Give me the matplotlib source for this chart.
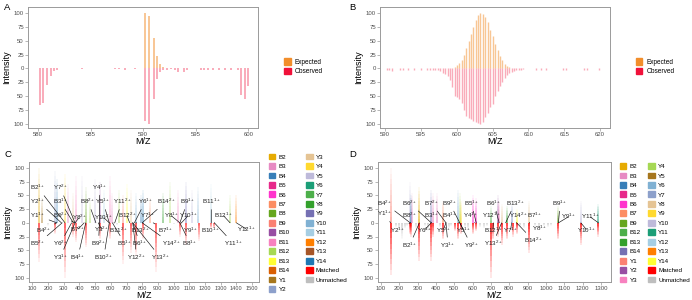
import numpy as np
import matplotlib
matplotlib.use('Agg')
import matplotlib.pyplot as plt
from matplotlib.collections import LineCollection
from matplotlib.colors import to_rgba
from matplotlib.patches import Patch

plt.rcParams['font.family'] = ['Liberation Sans', 'DejaVu Sans']
plt.rcParams['mathtext.default'] = 'regular'

# ---- Panel A: isotope envelope, expected vs observed ----
a_exp_mz = [590.2, 590.5, 591.0, 591.3, 591.6, 591.9, 592.3]
a_exp_int = [100, 95, 55, 23, 8, 3, 1]
a_obs_mz = [580.2, 580.5, 580.9, 581.2, 581.5, 581.8, 584.2, 587.3, 587.7, 588.3,
            589.2, 590.2, 590.5, 591.0, 591.3, 591.6, 591.9, 592.3, 592.6, 593.0,
            593.3, 593.9, 594.2, 595.5, 595.8, 596.2, 596.6, 597.2, 597.8, 598.3,
            599.0, 599.3, 599.7, 600.0]
a_obs_int = [67, 62, 30, 13, 4, 2, 1, 1, 1, 2,
             1, 95, 100, 55, 19, 6, 3, 2, 1, 2,
             6, 6, 2, 2, 2, 2, 2, 2, 3, 2,
             2, 48, 55, 32]

# ---- Panel B ----
b_exp_mz = [599.7, 600.0, 600.3, 600.7, 601.0, 601.3, 601.7, 602.0, 602.3, 602.7,
            603.0, 603.3, 603.7, 604.0, 604.3, 604.7, 605.0, 605.3, 605.7, 606.0,
            606.3, 606.7, 607.0, 607.3]
b_exp_int = [3, 6, 10, 15, 25, 37, 50, 63, 76, 88,
             96, 100, 98, 93, 84, 70, 58, 45, 33, 22,
             15, 9, 5, 2]
b_obs_mz = [590.2, 590.5, 591.0, 592.0, 592.5, 593.2, 594.0, 595.0, 595.8, 596.3,
            596.7, 597.0, 597.3, 597.7, 598.0, 598.3, 598.7, 599.0, 599.3, 599.7,
            600.0, 600.3, 600.7, 601.0, 601.3, 601.7, 602.0, 602.3, 602.7, 603.0,
            603.3, 603.7, 604.0, 604.3, 604.7, 605.0, 605.3, 605.7, 606.0, 606.3,
            606.7, 607.0, 607.3, 607.7, 608.0, 608.3, 608.7, 609.0, 609.3, 611.0,
            611.7, 612.5, 614.8, 615.3, 617.8, 618.2, 619.8]
b_obs_int = [2, 3, 4, 2, 2, 2, 2, 2, 2, 2,
             2, 2, 3, 5, 8, 10, 13, 20, 33, 50,
             52, 55, 62, 75, 86, 90, 92, 96, 97, 98,
             100, 97, 88, 80, 70, 65, 50, 40, 32, 25,
             18, 12, 8, 6, 4, 3, 2, 2, 1, 2,
             2, 2, 2, 2, 2, 2, 2]

# ---- Panel C: annotated fragment spectrum ----
c_ions = ['B2', 'B3', 'B4', 'B5', 'B6', 'B7', 'B8', 'B9', 'B10', 'B11', 'B12', 'B13',
          'B14', 'Y1', 'Y2', 'Y3', 'Y4', 'Y5', 'Y6', 'Y7', 'Y8', 'Y9', 'Y10', 'Y11',
          'Y12', 'Y13', 'Y14']
c_colors = ['#E6AB02', '#E78AC3', '#377EB8', '#E7298A', '#FF33CC', '#FC8D62', '#66A61E',
            '#FB8072', '#984EA3', '#F781BF', '#A6D854', '#FFFF33', '#D95F02', '#A6761D',
            '#8DA0CB', '#E5C494', '#FFD92F', '#BEBADA', '#1B9E77', '#4DAF4A', '#33A02C',
            '#7570B3', '#80B1D3', '#A6CEE3', '#FF7F00', '#A65628', '#1F78B4']
c_exp_mz = [142, 160, 246, 258, 306, 330, 358, 380, 416, 443, 470, 500, 528, 555, 592,
            610, 650, 677, 705, 730, 760, 790, 807, 850, 930, 980, 1028, 1081, 1120,
            1155, 1240, 1360, 1400]
c_exp_int = [100, 45, 95, 80, 90, 70, 55, 85, 85, 65, 40, 80, 75, 60, 85,
             55, 60, 50, 70, 60, 55, 50, 60, 45, 55, 75, 60, 75, 60,
             65, 70, 50, 50]
c_exp_ion = ['B2', 'Y1', 'Y2', 'B4', 'Y4', 'B3', 'Y3', 'B11', 'Y5', 'B8', 'B12', 'Y5',
             'B10', 'Y11', 'B11', 'B3', 'B12', 'B9', 'B13', 'Y3', 'Y10', 'B4', 'Y14',
             'B7', 'Y8', 'B12', 'B11', 'Y9', 'Y5', 'Y10', 'Y11', 'B12', 'Y12']
c_match_mz = [142, 246, 306, 359, 380, 443, 528, 592, 677, 729, 760, 807, 888, 1043,
              1081, 1159, 1240, 1260]
c_match_int = [72, 20, 100, 25, 35, 45, 30, 30, 75, 55, 60, 30, 90, 25, 40, 33, 10, 10]
c_unm_mz = [200, 640, 1000]
c_unm_int = [5, 4, 3]
# label text, label m/z, label height, target m/z
c_labels = [('B2$^{1+}$', 136, 64, 308), ('Y7$^{2+}$', 278, 64, 372),
            ('Y4$^{1+}$', 529, 65, 527), ('Y2$^{1+}$', 136, 39, 285),
            ('B3$^{1+}$', 278, 39, 361), ('B8$^{2+}$', 455, 39, 505),
            ('Y5$^{1+}$', 550, 39, 590), ('Y11$^{2+}$', 671, 39, 625),
            ('Y6$^{1+}$', 820, 39, 750), ('B14$^{2+}$', 952, 39, 800),
            ('B9$^{1+}$', 1089, 39, 1040), ('B11$^{1+}$', 1240, 39, 1240),
            ('Y1$^{1+}$', 136, 13, 255), ('B6$^{2+}$', 278, 13, 372),
            ('Y8$^{2+}$', 399, 10, 372), ('Y10$^{2+}$', 553, 10, 590),
            ('B12$^{2+}$', 703, 13, 720), ('Y7$^{1+}$', 833, 13, 760),
            ('Y8$^{1+}$', 985, 13, 1040), ('Y10$^{1+}$', 1093, 13, 1050),
            ('B12$^{1+}$', 1318, 13, 1360), ('B4$^{2+}$', 172, -14, 255),
            ('B7$^{2+}$', 390, -12, 430), ('Y3$^{2+}$', 541, -12, 520),
            ('B11$^{2+}$', 650, -14, 620), ('B13$^{2+}$', 788, -14, 760),
            ('B7$^{1+}$', 952, -14, 870), ('Y9$^{1+}$', 1110, -14, 1050),
            ('B10$^{1+}$', 1237, -14, 1260), ('Y12$^{1+}$', 1467, -12, 1400),
            ('B5$^{2+}$', 136, -38, 290), ('Y6$^{2+}$', 278, -38, 350),
            ('B9$^{2+}$', 522, -38, 527), ('B5$^{1+}$', 690, -38, 610),
            ('B6$^{1+}$', 786, -38, 740), ('Y14$^{2+}$', 985, -38, 800),
            ('B8$^{1+}$', 1105, -38, 1040), ('Y11$^{1+}$', 1382, -38, 1260),
            ('Y3$^{1+}$', 278, -63, 372), ('B4$^{1+}$', 390, -63, 440),
            ('B10$^{2+}$', 555, -63, 590), ('Y12$^{2+}$', 765, -63, 740),
            ('Y13$^{2+}$', 915, -63, 740)]

# ---- Panel D ----
d_ions = ['B2', 'B3', 'B4', 'B5', 'B6', 'B7', 'B9', 'B12', 'B13', 'B14', 'Y1', 'Y2', 'Y3',
          'Y4', 'Y5', 'Y6', 'Y7', 'Y8', 'Y9', 'Y10', 'Y11', 'Y12', 'Y13', 'Y14']
d_colors = ['#E6AB02', '#E78AC3', '#377EB8', '#E7298A', '#FF33CC', '#FC8D62', '#66A61E',
            '#4DAF4A', '#33A02C', '#7570B3', '#FB8072', '#984EA3', '#F781BF', '#A6D854',
            '#A6761D', '#80B1D3', '#8DA0CB', '#E5C494', '#FFD92F', '#BEBADA', '#1B9E77',
            '#A6CEE3', '#FF7F00', '#FFFF33']
d_exp_mz = [153, 258, 262, 268, 310, 375, 385, 405, 440, 522, 530, 536, 600, 620, 700,
            740, 745, 758, 786, 813, 840, 909, 1068, 1190, 1286]
d_exp_int = [100, 75, 50, 55, 65, 60, 55, 55, 40, 60, 55, 40, 50, 45, 30,
             50, 40, 35, 30, 35, 25, 40, 30, 40, 35]
d_exp_ion = ['Y1', 'Y10', 'B4', 'B3', 'B2', 'B14', 'B3', 'B3', 'B7', 'Y6', 'Y4', 'Y9',
             'B6', 'B6', 'B12', 'Y2', 'Y3', 'Y8', 'B13', 'Y7', 'Y14', 'Y8', 'B9', 'Y10',
             'Y11']
d_match_mz = [153, 258, 262, 310, 375, 385, 440, 502, 522, 536, 600, 620, 700, 713, 740,
              758, 786, 822, 840, 909, 1068, 1190, 1286]
d_match_int = [95, 20, 25, 70, 70, 25, 30, 15, 30, 20, 20, 15, 100, 30, 25,
               40, 30, 25, 20, 55, 30, 40, 25]
d_unm_mz = [185, 200, 215, 230, 245, 290, 340, 355, 420, 470, 485, 560, 575, 640, 660,
            680, 860, 880, 940, 960, 990, 1010, 1030]
d_unm_int = [8, 12, 30, 10, 6, 10, 6, 15, 8, 10, 6, 8, 12, 8, 10,
             6, 8, 10, 6, 10, 6, 8, 5]
d_labels = [('B4$^{2+}$', 120, 36, 260), ('B6$^{2+}$', 257, 36, 375),
            ('B7$^{2+}$', 375, 36, 455), ('B9$^{2+}$', 475, 36, 530),
            ('B5$^{1+}$', 593, 36, 620), ('B6$^{1+}$', 716, 36, 745),
            ('B13$^{2+}$', 831, 36, 780), ('B9$^{1+}$', 1077, 36, 1068),
            ('Y1$^{1+}$', 120, 17, 153), ('B8$^{2+}$', 257, 14, 262),
            ('B3$^{1+}$', 375, 14, 375), ('B4$^{1+}$', 475, 14, 525),
            ('Y4$^{1+}$', 590, 14, 610), ('Y12$^{1+}$', 702, 14, 740),
            ('Y14$^{2+}$', 849, 14, 840), ('B7$^{1+}$', 940, 14, 909),
            ('Y9$^{1+}$', 1122, 11, 1068), ('Y11$^{1+}$', 1240, 11, 1286),
            ('Y2$^{1+}$', 193, -13, 260), ('Y6$^{1+}$', 338, -13, 375),
            ('Y5$^{2+}$', 440, -13, 455), ('Y5$^{1+}$', 550, -13, 530),
            ('B12$^{1+}$', 711, -13, 713), ('Y7$^{1+}$', 807, -13, 813),
            ('Y8$^{1+}$', 967, -10, 909), ('Y10$^{1+}$', 1222, -13, 1190),
            ('B2$^{1+}$', 257, -41, 310), ('Y3$^{1+}$', 466, -41, 455),
            ('Y9$^{2+}$', 593, -41, 530), ('Y13$^{2+}$', 711, -38, 758),
            ('B14$^{2+}$', 931, -32, 840)]

EXP_COL = '#F28E2B'
OBS_COL = '#F0113A'
SPINE = '#9A9A9A'
yt = [-100, -75, -50, -25, 0, 25, 50, 75, 100]


def style_axes(ax, xticks, xlim):
    ax.set_xlim(*xlim)
    ax.set_ylim(-108, 111)
    ax.set_xticks(xticks)
    ax.set_yticks(yt)
    ax.set_yticklabels([str(abs(v)) for v in yt])
    ax.tick_params(labelsize=4.3, length=2, width=0.5, color=SPINE,
                   labelcolor='#4D4D4D', pad=1)
    for s in ax.spines.values():
        s.set_color(SPINE)
        s.set_linewidth(0.7)
    ax.set_xlabel('M/Z', fontsize=6.5, labelpad=0)
    ax.set_ylabel('Intensity', fontsize=6.5, labelpad=2)


def faded_lines(ax, xs, ys, cols, a0, a1, lw, n=10):
    segs, rgba = [], []
    for x, y, c in zip(xs, ys, cols):
        r, g, b, _ = to_rgba(c)
        for i in range(n):
            segs.append([(x, y * i / n), (x, y * (i + 1) / n)])
            rgba.append((r, g, b, a0 + (a1 - a0) * i / (n - 1)))
    ax.add_collection(LineCollection(segs, colors=rgba, linewidths=lw))


def label_peaks(ax, labels):
    for txt, lx, ly, tx in labels:
        ax.annotate(txt, xy=(tx, 0), xytext=(lx, ly), ha='center', va='center',
                    fontsize=4.5, color='#222222',
                    arrowprops=dict(arrowstyle='-', color='#111111', lw=0.45,
                                    shrinkA=0.5, shrinkB=0))


fig = plt.figure(figsize=(6.92, 3.0), dpi=100)
axA = fig.add_axes([0.0405, 0.573, 0.333, 0.403])
axB = fig.add_axes([0.5495, 0.573, 0.332, 0.403])
axC = fig.add_axes([0.042, 0.06, 0.332, 0.40])
axD = fig.add_axes([0.546, 0.06, 0.337, 0.40])

# A
axA.vlines(a_exp_mz, 0, a_exp_int, color=EXP_COL, alpha=0.5, lw=1.4)
axA.vlines(a_obs_mz, 0, [-v for v in a_obs_int], color=OBS_COL, alpha=0.35, lw=1.4)
style_axes(axA, [580, 585, 590, 595, 600], (579.05, 600.95))

# B
axB.vlines(b_exp_mz, 0, b_exp_int, color=EXP_COL, alpha=0.5, lw=1.0)
axB.vlines(b_obs_mz, 0, [-v for v in b_obs_int], color=OBS_COL, alpha=0.35, lw=1.0)
style_axes(axB, [590, 595, 600, 605, 610, 615, 620], (589.3, 621.4))

ab_handles = [Patch(color=EXP_COL, label='Expected'), Patch(color=OBS_COL, label='Observed')]
for bx in (0.411, 0.919):
    fig.legend(handles=ab_handles, loc='center left', bbox_to_anchor=(bx, 0.777),
               frameon=False, fontsize=4.7, handlelength=1.0, handleheight=1.1,
               handletextpad=0.6, labelspacing=0.35, borderpad=0, borderaxespad=0)

# C
cmapC = dict(zip(c_ions, c_colors))
faded_lines(axC, c_exp_mz, c_exp_int, [cmapC[i] for i in c_exp_ion], 0.55, 0.08, 1.1)
faded_lines(axC, c_match_mz, [-v for v in c_match_int], ['#FF0000'] * len(c_match_mz),
            0.75, 0.08, 1.1)
faded_lines(axC, c_unm_mz, [-v for v in c_unm_int], ['#BEBEBE'] * len(c_unm_mz),
            0.6, 0.1, 1.1)
label_peaks(axC, c_labels)
style_axes(axC, list(range(100, 1501, 100)), (79, 1543))
axC.tick_params(axis='x', labelsize=4.1)

# D
cmapD = dict(zip(d_ions, d_colors))
faded_lines(axD, d_exp_mz, d_exp_int, [cmapD[i] for i in d_exp_ion], 0.75, 0.08, 1.1)
faded_lines(axD, d_match_mz, [-v for v in d_match_int], ['#FF0000'] * len(d_match_mz),
            1.0, 0.12, 1.1)
faded_lines(axD, d_unm_mz, [-v for v in d_unm_int], ['#BEBEBE'] * len(d_unm_mz),
            0.8, 0.1, 1.1)
label_peaks(axD, d_labels)
style_axes(axD, list(range(100, 1301, 100)), (83.6, 1354.5))

for names, cols, bx, cs in [(c_ions, c_colors, 0.389, 2.6), (d_ions, d_colors, 0.896, 1.2)]:
    hs = [Patch(color=c, label=n) for n, c in zip(names, cols)]
    hs += [Patch(color='#FF0000', label='Matched'), Patch(color='#BEBEBE', label='Unmatched')]
    fig.legend(handles=hs, loc='center left', bbox_to_anchor=(bx, 0.257), ncol=2,
               frameon=False, fontsize=4.5, handlelength=1.0, handleheight=1.05,
               handletextpad=0.55, labelspacing=0.55, columnspacing=cs,
               borderpad=0, borderaxespad=0)

for t, x, y in [('A', 0.006, 0.975), ('B', 0.505, 0.975), ('C', 0.006, 0.485), ('D', 0.505, 0.485)]:
    fig.text(x, y, t, fontsize=6.8, va='center', ha='left')

fig.savefig('out.png', dpi=100)
